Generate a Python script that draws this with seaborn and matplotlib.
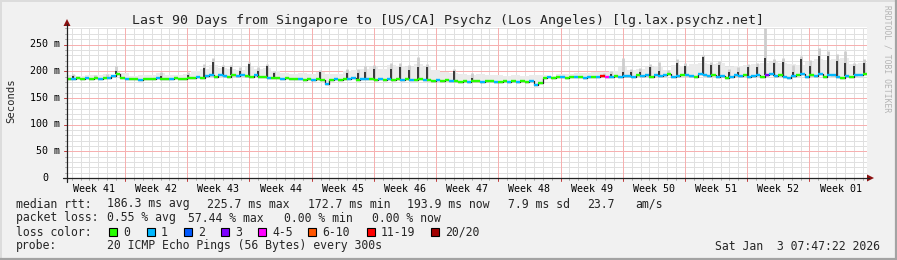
import numpy as np
import pandas as pd
import matplotlib
matplotlib.use("Agg")
import matplotlib.pyplot as plt
import seaborn as sns
from matplotlib.patches import Rectangle, Polygon

# ---------------- data ----------------
title = "Last 90 Days from Singapore to [US/CA] Psychz (Los Angeles) [lg.lax.psychz.net]"

# median rtt (ms), one value per half day, 90 days
median = [
    186, 185, 187, 186, 188, 185, 187, 186, 188, 187, 191, 194, 188, 186,
    185, 186, 184, 185, 186, 185, 187, 185, 186, 185, 187, 186, 185, 187,
    188, 189, 187, 191, 192, 190, 193, 191, 190, 192, 191, 193, 191, 190,
    192, 190, 189, 187, 188, 187, 186, 187, 185, 186, 185, 184, 185, 184,
    186, 184, 176, 183, 185, 184, 186, 185, 187, 184, 185, 186, 185, 184,
    185, 183, 185, 184, 186, 184, 185, 183, 184, 185, 183, 184, 182, 183,
    182, 183, 181, 182, 180, 181, 179, 182, 181, 180, 181, 182, 180, 179,
    181, 180, 182, 179, 181, 180, 181, 175, 178, 187, 189, 188, 190, 189,
    188, 189, 190, 189, 188, 190, 189, 190, 191, 189, 190, 191, 190, 191,
    191, 190, 192, 191, 192, 190, 193, 191, 192, 194, 190, 191, 193, 192,
    191, 189, 194, 192, 191, 193, 189, 191, 188, 190, 192, 191, 193, 190,
    191, 193, 189, 192, 195, 191, 192, 190, 188, 191, 193, 194, 190, 192,
    191, 194, 189, 193, 192, 190, 187, 191, 189, 192, 193, 194,
]

# lost pings out of 20 for each half day
loss = [
    0, 1, 0, 0, 1, 0, 0, 1, 0, 1, 1, 0, 0, 1,
    0, 0, 1, 0, 0, 0, 1, 0, 0, 1, 0, 0, 0, 0,
    0, 1, 0, 1, 1, 0, 1, 1, 0, 0, 1, 1, 0, 0,
    1, 0, 0, 1, 0, 0, 1, 0, 0, 0, 1, 0, 0, 1,
    0, 0, 1, 0, 1, 0, 0, 1, 1, 0, 1, 1, 0, 0,
    1, 0, 1, 0, 0, 1, 0, 1, 0, 0, 1, 0, 0, 1,
    0, 0, 1, 0, 0, 0, 1, 0, 0, 1, 0, 0, 1, 0,
    0, 1, 0, 1, 0, 0, 1, 1, 0, 0, 1, 0, 0, 1,
    0, 0, 1, 0, 1, 1, 0, 1, 11, 4, 1, 0, 1, 1,
    1, 1, 0, 1, 1, 0, 1, 1, 1, 0, 1, 1, 0, 1,
    1, 0, 1, 1, 1, 0, 1, 1, 0, 1, 1, 1, 0, 1,
    1, 1, 0, 3, 1, 1, 0, 1, 1, 1, 0, 1, 1, 0,
    1, 1, 0, 1, 1, 1, 0, 1, 0, 1, 1, 0,
]

# upper edge of the faint smoke, one value per day (ms)
haze = [
    192, 191, 193, 192, 194, 193, 197, 191, 192, 193, 196, 192, 193, 195,
    201, 205, 211, 206, 205, 203, 207, 204, 206, 201, 197, 195, 196, 194,
    199, 195, 194, 201, 203, 204, 207, 205, 211, 209, 207, 213, 207, 203,
    199, 197, 195, 193, 194, 193, 192, 191, 192, 191, 193, 192, 191, 195,
    195, 196, 197, 198, 199, 201, 207, 203, 204, 207, 209, 203, 211, 209,
    213, 215, 213, 215, 207, 209, 211, 213, 215, 217, 215, 213, 211, 217,
    223, 221, 223, 225, 213, 215,
]

# smoke spikes: day, top of dense (dark) smoke, top of light smoke (ms)
spike_day = [0.7, 3.2, 4.5, 5.5, 10.6, 13.6, 15.4, 16.4, 17.5, 18.5, 19.5, 20.5,
             21.5, 22.5, 23.3, 28.5, 31.5, 32.7, 33.5, 34.5, 36.5, 37.5, 38.5,
             39.5, 40.5, 43.5, 45.6, 60.4, 61.2, 62.5, 63.5, 64.5, 65.6, 66.6,
             67.6, 68.6, 69.5, 71.5, 72.5, 73.4, 74.5, 75.5, 76.6, 77.6, 78.5,
             79.5, 80.6, 81.7, 82.6, 83.6, 84.6, 85.6, 86.6, 87.5, 88.5, 89.7]
spike_dark = [191, 189, 190, 200, 191, 192, 206, 218, 207, 207, 201, 213,
              201, 209, 196, 199, 197, 196, 199, 205, 205, 207, 203,
              207, 207, 201, 187, 193, 195, 199, 198, 199, 207, 201,
              197, 216, 209, 226, 212, 212, 199, 199, 207, 207, 224,
              216, 218, 199, 222, 209, 228, 229, 220, 216, 209, 216]
spike_light = [195, 193, 195, 209, 199, 199, 213, 225, 211, 211, 207, 217,
               207, 213, 201, 203, 205, 205, 209, 211, 215, 215, 211,
               227, 213, 205, 197, 197, 201, 225, 205, 206, 213, 218,
               203, 222, 215, 231, 217, 219, 205, 207, 213, 215, 281,
               223, 225, 211, 229, 221, 243, 237, 233, 237, 216, 223]

week_labels = ["Week 41", "Week 42", "Week 43", "Week 44", "Week 45", "Week 46",
               "Week 47", "Week 48", "Week 49", "Week 50", "Week 51", "Week 52",
               "Week 01"]
y_ticks = [0, 50, 100, 150, 200, 250]
y_tick_labels = ["0", "50 m", "100 m", "150 m", "200 m", "250 m"]

rtt_stats = ["186.3 ms avg", "225.7 ms max", "172.7 ms min", "193.9 ms now",
             "7.9 ms sd", "23.7", "am/s"]
loss_stats = ["0.55 % avg", "57.44 % max", "0.00 % min", "0.00 % now"]
loss_labels = ["0", "1", "2", "3", "4-5", "6-10", "11-19", "20/20"]
loss_colors = ["#26ff00", "#00b8ff", "#0059ff", "#7e00ff", "#ff00ff",
               "#ff5500", "#ff0000", "#a10000"]
probe_text = "20 ICMP Echo Pings (56 Bytes) every 300s"
date_text = "Sat Jan  3 07:47:22 2026"

# ---------------- style ----------------
sns.set_style("white")
plt.rcParams["font.family"] = ["DejaVu Sans Mono", "DejaVu Sans"]

W, H = 897, 260
BG = "#f1f1f1"
fig = plt.figure(figsize=(W / 100, H / 100), dpi=100, facecolor=BG)

L, R, T, B = 67, 867, 27, 178
YMAX = 282.8
ax = fig.add_axes([L / W, 1 - B / H, (R - L) / W, (B - T) / H])
ax.set_facecolor("white")
ax.set_xlim(0, 90)
ax.set_ylim(0, YMAX)
for s in ax.spines.values():
    s.set_visible(False)
ax.set_xticks([])
ax.set_yticks([])

dot = (0, (1, 1))
# minor grid
for d in np.arange(0.53, 90, 1.0):
    ax.axvline(d, color="#e0e0e0", lw=0.72, ls=dot, zorder=0.5, antialiased=False)
for v in range(10, 290, 10):
    ax.axhline(v, color="#e0e0e0", lw=0.72, ls=dot, zorder=0.5, antialiased=False)
# major grid
week_edges = np.arange(6.53, 90, 7.0)
for d in week_edges:
    ax.axvline(d, color="#f6b0b0", lw=0.72, ls=dot, zorder=0.6, antialiased=False)
for v in y_ticks[1:]:
    ax.axhline(v, color="#f6b0b0", lw=0.72, ls=dot, zorder=0.6, antialiased=False)

# smoke
n = len(median)
t = np.arange(n) * 0.5
med = np.array(median, dtype=float)
haze_h = np.repeat(np.array(haze, dtype=float), 2)
edges = np.append(t, 90.0)
ax.fill_between(edges, np.append(med - 2, med[-1] - 2), np.append(haze_h, haze_h[-1]),
                step="post", color="#ebebeb", lw=0, zorder=1)

sd = np.array(spike_day)
base = med[np.clip((sd * 2).astype(int), 0, n - 1)]
ax.vlines(sd, base, spike_light, color="#cdcdcd", lw=2.0, zorder=2)
ax.vlines(sd, base, spike_dark, color="#1e1e1e", lw=1.2, zorder=3)

# median line
df = pd.DataFrame({"day": edges, "rtt": np.append(med, med[-1])})
sns.lineplot(data=df, x="day", y="rtt", drawstyle="steps-post", color="#222222",
             lw=0.9, ax=ax, zorder=4)


def loss_idx(v):
    if v <= 3:
        return v
    if v <= 5:
        return 4
    if v <= 10:
        return 5
    if v <= 19:
        return 6
    return 7


seg_cols = [loss_colors[loss_idx(v)] for v in loss]
ax.hlines(med, t, t + 0.5, colors=seg_cols, lw=1.7, zorder=5)
ax.set_xlim(0, 90)
ax.set_ylim(0, YMAX)
ax.set_xlabel("")
ax.set_ylabel("")

# ---------------- overlay in pixel coords ----------------
ov = fig.add_axes([0, 0, 1, 1])
ov.set_xlim(0, W)
ov.set_ylim(H, 0)
ov.axis("off")
ov.patch.set_alpha(0)

px_day = (R - L) / 90.0
px_ms = (B - T) / YMAX


def xpx(d):
    return L + d * px_day


def ypx(v):
    return B - v * px_ms


# frame
ov.plot([0, W], [0.5, 0.5], color="#dcdcdc", lw=1.4)
ov.plot([0.5, 0.5], [0, H], color="#dcdcdc", lw=1.4)
ov.plot([0, W], [H - 1, H - 1], color="#a3a3a3", lw=1.6)
ov.plot([W - 1, W - 1], [0, H], color="#a3a3a3", lw=1.6)

# ticks
for v in range(0, 290, 10):
    ov.plot([L - 2, L], [ypx(v), ypx(v)], color="#b0b0b0", lw=0.72)
for v in y_ticks:
    ov.plot([L - 3, L], [ypx(v), ypx(v)], color="#c04040", lw=0.72)
for d in np.arange(0.53, 90, 1.0):
    ov.plot([xpx(d), xpx(d)], [B, B + 2], color="#b0b0b0", lw=0.72)
for d in week_edges:
    ov.plot([xpx(d), xpx(d)], [B, B + 3], color="#c04040", lw=0.72)

# axes lines and arrows
ov.plot([L, L], [B + 4, T - 3], color="#222222", lw=0.9)
ov.plot([L - 4, R + 2], [B, B], color="#222222", lw=0.9)
ov.add_patch(Polygon([[L - 3.5, T - 1], [L + 3.5, T - 1], [L, T - 8]],
                     closed=True, color="#8b1010", lw=0))
ov.add_patch(Polygon([[R, B - 3.5], [R, B + 3.5], [R + 7, B]],
                     closed=True, color="#8b1010", lw=0))

# tick labels
for v, lab in zip(y_ticks, y_tick_labels):
    xr = 60 if lab.endswith("m") else 48
    ov.text(xr, ypx(v) + 2.8, lab, ha="right", va="baseline", fontsize=7.2,
            color="#000000")
for i, lab in enumerate(week_labels):
    ov.text(xpx(week_edges[0] - 3.5 + 7 * i), 191.5, lab, ha="center",
            va="baseline", fontsize=7.2, color="#000000")

ov.text(11, 101, "Seconds", rotation=90, ha="center", va="center", fontsize=7.6)
ov.text(448, 24, title, ha="center", va="baseline", fontsize=9.5)
ov.text(887, 59, "RRDTOOL / TOBI OETIKER", rotation=270, ha="center",
        va="center", fontsize=5.8, color="#b4b4b4")

fs = 8.3
# median rtt line
yb = 207.5
ov.text(16, yb, "median rtt:", fontsize=fs, va="baseline")
for x, s in zip([107, 207, 308, 407, 508, 587, 635], rtt_stats):
    ov.text(x, yb, s, fontsize=fs, va="baseline")
# packet loss line
yb = 221.5
ov.text(16, yb, "packet loss:", fontsize=fs, va="baseline")
for x, s in zip([107, 188, 284, 372], loss_stats):
    ov.text(x, yb, s, fontsize=fs, va="baseline")
# loss colours
yb = 235.5
ov.text(16, yb, "loss color:", fontsize=fs, va="baseline")
box_x = [108, 146, 183, 220, 257, 307, 366, 430]
for x, lab, c in zip(box_x, loss_labels, loss_colors):
    ov.add_patch(Rectangle((x + 0.5, 227.5), 8, 8, facecolor=c,
                           edgecolor="#000000", lw=0.8))
    ov.text(x + 15, yb, lab, fontsize=fs, va="baseline")
# probe
yb = 249.5
ov.text(16, yb, "probe:", fontsize=fs, va="baseline")
ov.text(107, yb, probe_text, fontsize=fs, va="baseline")
ov.text(880, yb, date_text, fontsize=fs, va="baseline", ha="right")

fig.savefig("out.png", dpi=100, facecolor=BG)
